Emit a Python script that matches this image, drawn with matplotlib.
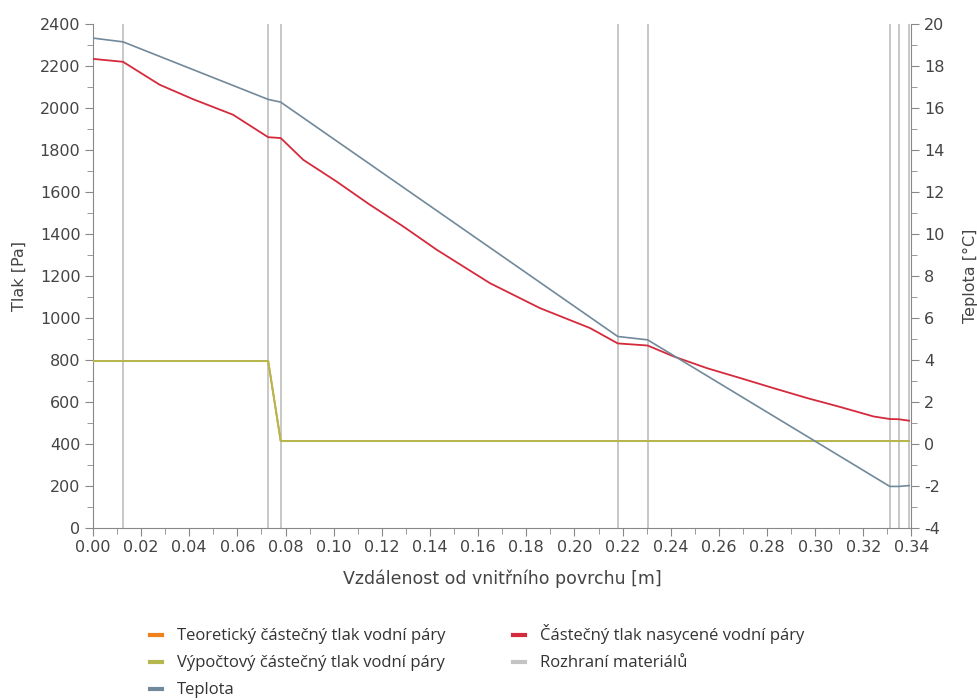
import matplotlib
matplotlib.use('Agg')
import matplotlib.pyplot as plt
from matplotlib.ticker import MultipleLocator

plt.rcParams['font.family'] = ['DejaVu Sans']

# rozhraní materiálů [m]
interfaces = [0.0125, 0.0728, 0.078, 0.218, 0.2304, 0.331, 0.3347, 0.339]

# teplota [°C]
temp_x = [0.0, 0.0125, 0.0728, 0.078, 0.218, 0.2304, 0.331, 0.3347, 0.339]
temp_y = [19.32, 19.14, 16.40, 16.27, 5.11, 4.95, -2.03, -2.03, -1.99]

# částečný tlak nasycené vodní páry [Pa]
psat_x = [0.0, 0.0125, 0.0277, 0.0416, 0.0582, 0.0728, 0.078, 0.0874, 0.1012,
          0.1151, 0.1289, 0.1428, 0.1649, 0.1857, 0.2065, 0.218, 0.2304,
          0.2412, 0.2551, 0.2689, 0.2827, 0.2966, 0.3105, 0.3243, 0.331,
          0.3347, 0.339]
psat_y = [2233, 2219, 2110, 2041, 1967, 1860, 1856, 1752, 1649,
          1538, 1435, 1324, 1165, 1046, 951, 878, 868,
          816, 760, 713, 665, 618, 575, 530, 518,
          517, 510]

# výpočtový a teoretický částečný tlak vodní páry [Pa]
p_x = [0.0, 0.0728, 0.078, 0.339]
p_calc = [794, 794, 413, 413]
p_theor = [794, 794, 413, 413]

grey = '#444444'
spine_col = '#888888'

fig = plt.figure(figsize=(9.78, 7.0), dpi=100)
ax = fig.add_axes([0.095, 0.246, 0.837, 0.720])
ax2 = ax.twinx()

for xi in interfaces:
    ax.axvline(xi, color='#c4c4c4', lw=1.3, zorder=1)

ax.plot(p_x, p_theor, color='#f0821e', lw=1.3, zorder=2)
ax.plot(p_x, p_calc, color='#b4b84e', lw=1.4, zorder=3)
ax.plot(psat_x, psat_y, color='#d42a3c', lw=1.3, zorder=3)
ax2.plot(temp_x, temp_y, color='#71899a', lw=1.2, zorder=3)

ax.set_xlim(0, 0.34)
ax.set_ylim(0, 2400)
ax2.set_ylim(-4, 20)

ax.xaxis.set_major_locator(MultipleLocator(0.02))
ax.xaxis.set_minor_locator(MultipleLocator(0.01))
ax.yaxis.set_major_locator(MultipleLocator(200))
ax.yaxis.set_minor_locator(MultipleLocator(100))
ax2.yaxis.set_major_locator(MultipleLocator(2))
ax2.yaxis.set_minor_locator(MultipleLocator(1))
ax.xaxis.set_major_formatter(plt.FuncFormatter(lambda v, p: '%.2f' % v))
ax2.yaxis.set_major_formatter(plt.FuncFormatter(lambda v, p: '%d' % v))

for a in (ax, ax2):
    a.spines['top'].set_visible(False)
    for s in a.spines.values():
        s.set_color(spine_col)
    a.tick_params(which='major', length=6, color=spine_col, labelcolor=grey,
                  labelsize=11.5, direction='out', pad=3)
    a.tick_params(which='minor', length=4, color=spine_col, direction='out')
ax.spines['right'].set_visible(False)
ax2.spines['left'].set_visible(False)
ax2.spines['bottom'].set_visible(False)

ax.set_xlabel('Vzdálenost od vnitřního povrchu [m]', color=grey, fontsize=12.5, labelpad=10)
ax.set_ylabel('Tlak [Pa]', color=grey, fontsize=11.5, labelpad=9)
ax2.set_ylabel('Teplota [°C]', color=grey, fontsize=11.5, labelpad=13)

handles = [
    plt.Line2D([], [], color='#f0821e', lw=3),
    plt.Line2D([], [], color='#b4b84e', lw=3),
    plt.Line2D([], [], color='#71899a', lw=3),
    plt.Line2D([], [], color='#d42a3c', lw=3),
    plt.Line2D([], [], color='#c4c4c4', lw=3),
]
labels = ['Teoretický částečný tlak vodní páry',
          'Výpočtový částečný tlak vodní páry',
          'Teplota',
          'Částečný tlak nasycené vodní páry',
          'Rozhraní materiálů']
fig.legend(handles, labels, ncol=2, loc='upper left', bbox_to_anchor=(0.153, 0.108),
           frameon=False, handlelength=0.72, handletextpad=0.9, columnspacing=4.1,
           labelspacing=0.66, borderaxespad=0, borderpad=0,
           prop={'family': 'Open Sans', 'size': 12}, labelcolor='#333333')

fig.savefig('out.png', dpi=100)
